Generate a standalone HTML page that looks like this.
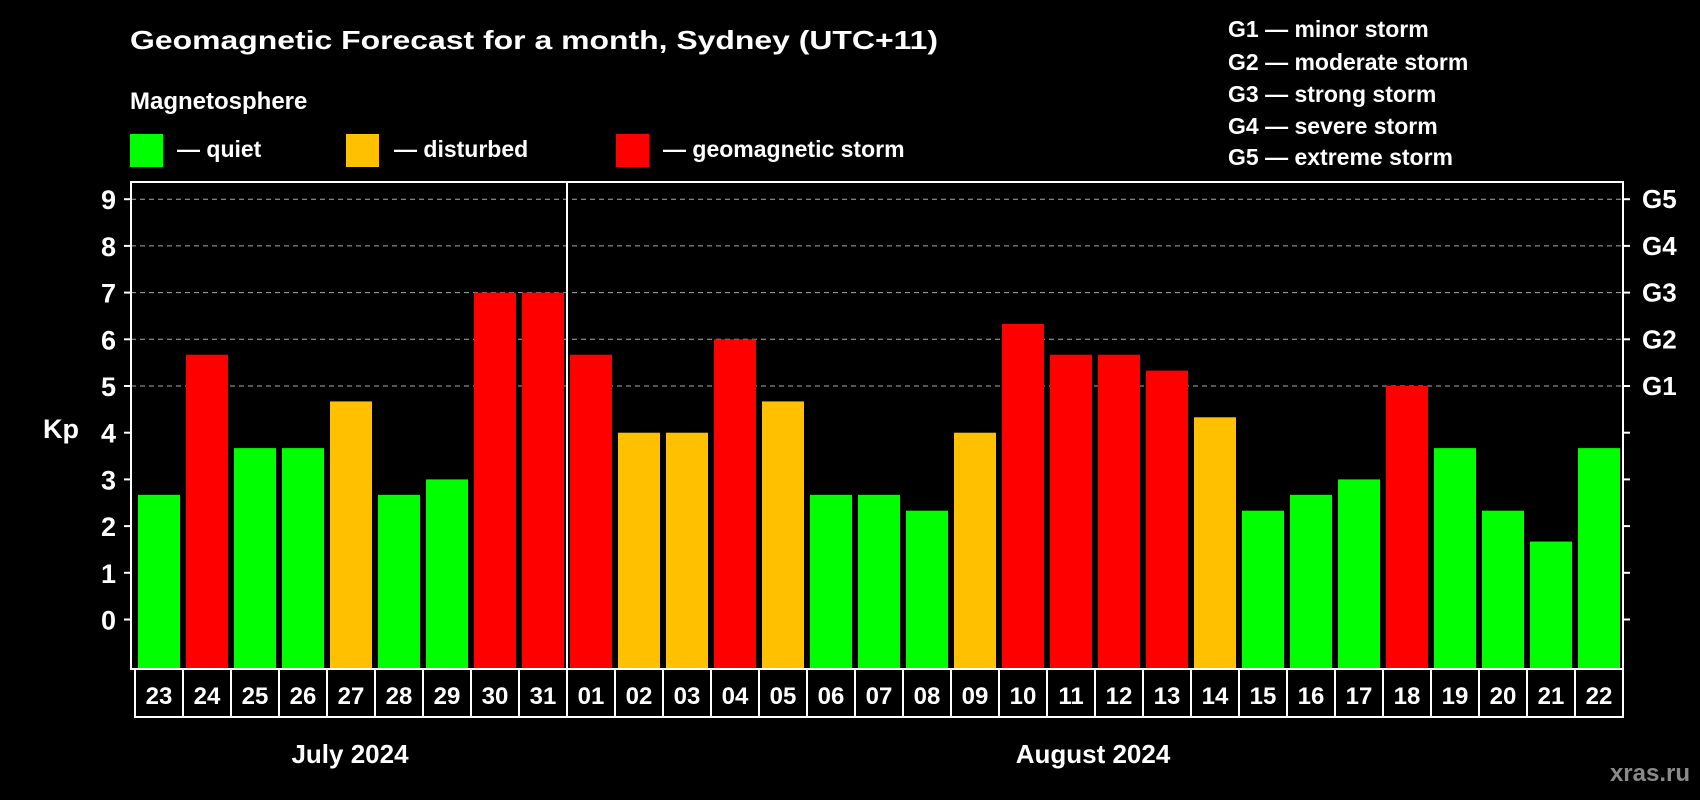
<!DOCTYPE html>
<html><head><meta charset="utf-8"><style>
html,body{margin:0;padding:0;background:#000;}
svg{display:block;font-family:"Liberation Sans",Arial,sans-serif;font-weight:bold;}
</style></head><body>
<svg id="chart" width="1700" height="800" viewBox="0 0 1700 800" xmlns="http://www.w3.org/2000/svg">
<rect x="0" y="0" width="1700" height="800" fill="#000"/>
<text x="130" y="49" fill="#fff" font-size="26" textLength="808" lengthAdjust="spacingAndGlyphs">Geomagnetic Forecast for a month, Sydney (UTC+11)</text>
<text x="130" y="109" fill="#fff" font-size="24">Magnetosphere</text>
<g>
<rect x="130" y="134" width="33" height="33" fill="#00ff00"/>
<text x="177" y="157" fill="#fff" font-size="23">— quiet</text></g>
<g>
<rect x="346" y="134" width="33" height="33" fill="#ffc000"/>
<text x="394" y="157" fill="#fff" font-size="23">— disturbed</text></g>
<g>
<rect x="616" y="134" width="33" height="33" fill="#ff0000"/>
<text x="663" y="157" fill="#fff" font-size="23">— geomagnetic storm</text></g>
<g fill="#fff" font-size="23">
<text x="1228" y="37">G1 — minor storm</text>
<text x="1228" y="70">G2 — moderate storm</text>
<text x="1228" y="102">G3 — strong storm</text>
<text x="1228" y="134">G4 — severe storm</text>
<text x="1228" y="165">G5 — extreme storm</text>
</g>
<text x="43" y="438" fill="#fff" font-size="27">Kp</text>
<g id="grid"></g><g id="bars"></g><g id="axes"></g>
<text x="350" y="763" fill="#fff" font-size="26" text-anchor="middle">July 2024</text>
<text x="1093" y="763" fill="#fff" font-size="26" text-anchor="middle">August 2024</text>
<text x="1690" y="781" fill="#8a8a8a" font-size="24" text-anchor="end">xras.ru</text>
</svg>
<script>
const days = ["23","24","25","26","27","28","29","30","31","01","02","03","04","05","06","07","08","09","10","11","12","13","14","15","16","17","18","19","20","21","22"];
const kp = [2.67,5.67,3.67,3.67,4.67,2.67,3,7,7,5.67,4,4,6,4.67,2.67,2.67,2.33,4,6.33,5.67,5.67,5.33,4.33,2.33,2.67,3,5,3.67,2.33,1.67,3.67];
const yTicks = [0,1,2,3,4,5,6,7,8,9];
const gLabels = ["G1","G2","G3","G4","G5"];
const gLevels = [5,6,7,8,9];
const monthSplit = 9;

const NS="http://www.w3.org/2000/svg";
const L=131,R=1623,T=182,B=669,cellL=135,cellW=(R-cellL)/days.length;
const y=v=>619.5-v*46.7;
const x=i=>cellL+i*cellW;
function mk(tag,attrs,parent){const e=document.createElementNS(NS,tag);for(const k in attrs)e.setAttribute(k,attrs[k]);parent.appendChild(e);return e;}
const grid=document.getElementById('grid'),bars=document.getElementById('bars'),axes=document.getElementById('axes');
gLevels.forEach((v,i)=>{
  const l=mk('line',{x1:L,x2:R,y1:y(v),y2:y(v),stroke:'#aaa','stroke-width':1,'stroke-dasharray':'5,4'},grid);
  
  
  const t=mk('text',{x:1642,y:y(v)+9,fill:'#fff','font-size':26},axes);t.textContent=gLabels[i];
  
  
});
kp.forEach((v,i)=>{
  const c=v>=5?'#ff0000':(v>=4?'#ffc000':'#00ff00');
  const r=mk('rect',{x:x(i)+3,y:y(v),width:cellW-6,height:B-y(v),fill:c},bars);
  
  
  const cb=mk('rect',{x:x(i),y:B,width:cellW,height:48,fill:'none',stroke:'#fff','stroke-width':2},axes);
  
  
  const t=mk('text',{x:x(i)+cellW/2,y:B+35,fill:'#fff','font-size':24,'text-anchor':'middle'},axes);t.textContent=days[i];
  
  
});
const frame=mk('rect',{x:L,y:T,width:R-L,height:B-T,fill:'none',stroke:'#fff','stroke-width':2},axes);


const sep=mk('line',{x1:x(monthSplit),x2:x(monthSplit),y1:T,y2:B+48,stroke:'#fff','stroke-width':2},axes);


yTicks.forEach(v=>{
  mk('line',{x1:L-7,x2:L,y1:y(v),y2:y(v),stroke:'#fff','stroke-width':2},axes);
  mk('line',{x1:R,x2:R+7,y1:y(v),y2:y(v),stroke:'#fff','stroke-width':2},axes);
  const t=mk('text',{x:116,y:y(v)+10,fill:'#fff','font-size':27,'text-anchor':'end'},axes);t.textContent=v;
  
  
});
</script>
</body></html>
